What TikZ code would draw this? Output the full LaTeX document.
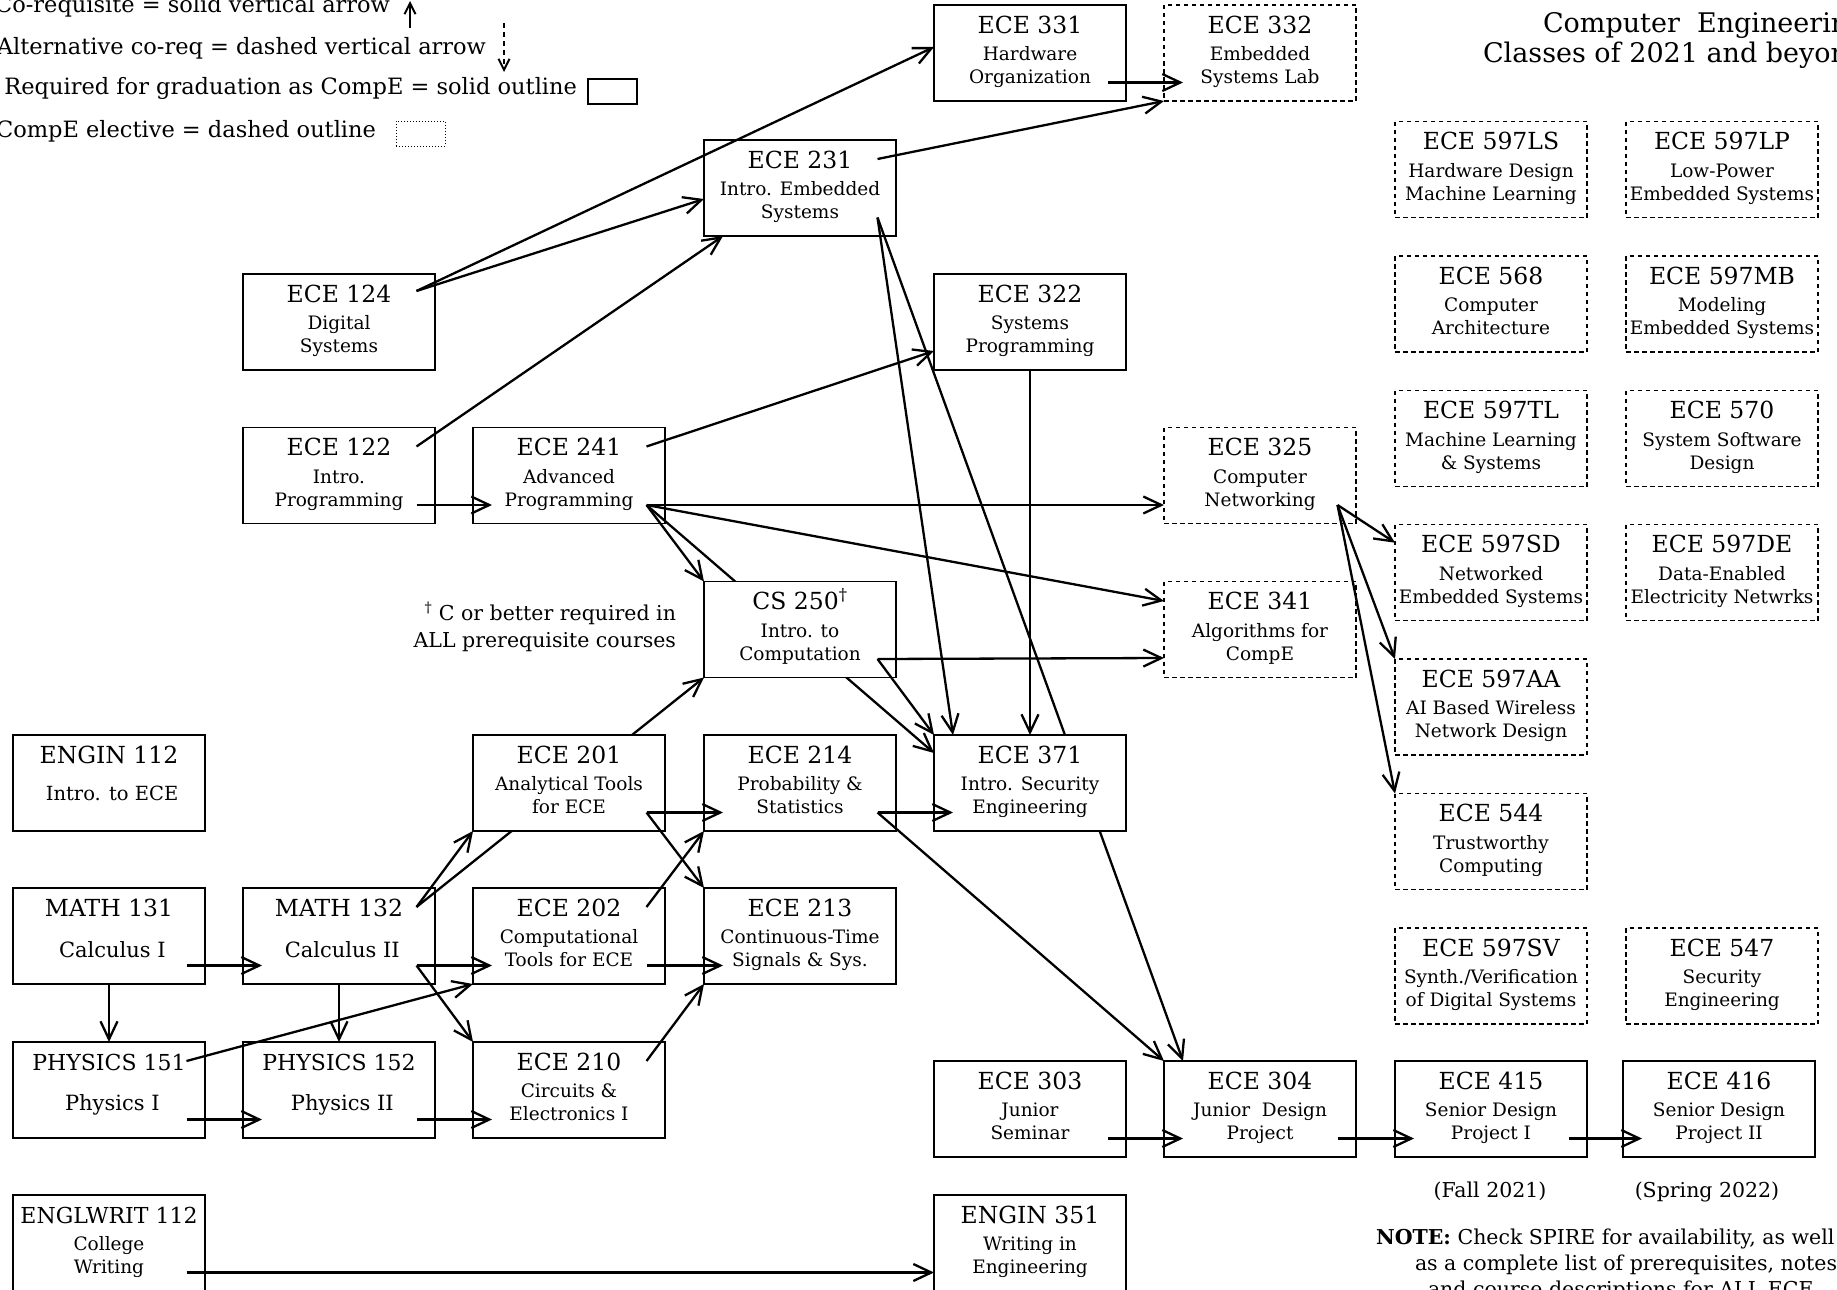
\documentclass[tikz,border=0pt]{standalone}
\usepackage{fontspec}
\setmainfont{DejaVu Serif}
\usetikzlibrary{arrows.meta,calc}
\newcommand\crsrow[2]{\vskip #1\relax\hbox to 192pt{\hss\smash{#2}\hss}}
\newcommand\crstitle{\fontsize{23.5pt}{28pt}\selectfont}
\newcommand\crssub{\fontsize{18.5pt}{22pt}\selectfont}
\newcommand\crsmid{\fontsize{19.5pt}{23pt}\selectfont}
\newcommand\crsbig{\fontsize{21pt}{25pt}\selectfont}
\newcommand\crsthree[3]{\vbox to 96pt{\offinterlineskip\crsrow{28pt}{\crstitle #1}\crsrow{27.5pt}{\crssub #2}\crsrow{23pt}{\crssub #3}\vss}}
\newcommand\crstwo[4]{\vbox to 96pt{\offinterlineskip\crsrow{28pt}{\crstitle #1}\crsrow{#4}{#3 #2}\vss}}
\newcommand\legf{\fontsize{22.5pt}{26pt}\selectfont}
\newcommand\fnf{\fontsize{20.5pt}{24pt}\selectfont}
\newcommand\headf{\fontsize{27pt}{32pt}\selectfont}
\newcommand\notef{\fontsize{20.5pt}{26pt}\selectfont}
\tikzset{
 req/.style={draw, line width=1.3pt, fill=white, inner sep=0pt, outer sep=0pt},
 elec/.style={req, line width=1.2pt, dash pattern=on 4.5pt off 3.5pt},
 arr/.style={line width=2.3pt, -{Straight Barb[length=18pt,width=17pt]}},
 legarr/.style={line width=2pt, -{Straight Barb[length=11pt,width=11pt]}},
 txt/.style={inner sep=0pt, outer sep=0pt},
}
\begin{document}
\begin{tikzpicture}[x=1pt,y=-1pt]
\useasboundingbox (0,0) rectangle (1837,1290);
\fill[white] (0,0) rectangle (1837,1290);

% ---------- legend ----------
\node[txt, anchor=base east, font=\legf] (leg1) at (390,13) {Co-requisite = solid vertical arrow};
\node[txt, anchor=base east, font=\legf] (leg2) at (486,55) {Alternative co-req = dashed vertical arrow};
\node[txt, anchor=base east, font=\legf] (leg3) at (577,95) {Required for graduation as CompE = solid outline};
\node[txt, anchor=base east, font=\legf] (leg4) at (376,137) {CompE elective = dashed outline};
\coordinate (lu1) at (410,28); \coordinate (lu2) at (410,1);
\coordinate (ld1) at (504,23); \coordinate (ld2) at (504,72);
\draw[legarr] (lu1) -- (lu2);
\draw[legarr, dash pattern=on 5pt off 4pt] (ld1) -- (ld2);
\node[draw, line width=1.2pt, minimum width=49pt, minimum height=25pt, inner sep=0pt] (legreq) at (612.5,91.5) {};
\node[draw, line width=1pt, dotted, minimum width=49pt, minimum height=25pt, inner sep=0pt] (legelec) at (420.5,133.5) {};

% ---------- heading and notes ----------
\node[txt, anchor=base west, font=\headf] (head1) at (1543,33) {Computer\ \ Engineering};
\node[txt, anchor=base west, font=\headf] (head2) at (1483,63) {Classes of 2021 and beyond};
\node[txt, anchor=base west, font=\notef] (note1) at (1376,1244) {\textbf{NOTE:} Check SPIRE for availability, as well};
\node[txt, anchor=base west, font=\notef] (note2) at (1415,1270) {as a complete list of prerequisites, notes};
\node[txt, anchor=base west, font=\notef] (note3) at (1428,1296) {and course descriptions for ALL ECE};
\node[txt, anchor=base, font=\notef] (fall) at (1490,1197) {(Fall 2021)};
\node[txt, anchor=base, font=\notef] (spring) at (1707,1197) {(Spring 2022)};
\node[txt, anchor=base east, font=\fnf] (fn1) at (676,620) {\textsuperscript{†} C or better required in};
\node[txt, anchor=base east, font=\fnf] (fn2) at (676,647) {ALL prerequisite courses};

% ---------- courses ----------
\node[req] (ece331) at (1030,53) {\crsthree{ECE 331}{Hardware}{Organization}};
\node[elec] (ece332) at (1260,53) {\crsthree{ECE 332}{Embedded}{Systems Lab}};
\node[req] (ece231) at (800,188) {\crsthree{ECE 231}{Intro. Embedded}{Systems}};
\node[req] (ece124) at (339,322) {\crsthree{ECE 124}{Digital}{Systems}};
\node[req] (ece322) at (1030,322) {\crsthree{ECE 322}{Systems}{Programming}};
\node[req] (ece122) at (339,475.5) {\crsthree{ECE 122}{Intro.}{Programming}};
\node[req] (ece241) at (569,475.5) {\crsthree{ECE 241}{Advanced}{Programming}};
\node[elec] (ece325) at (1260,475.5) {\crsthree{ECE 325}{Computer}{Networking}};
\node[elec] (ece341) at (1260,629.5) {\crsthree{ECE 341}{Algorithms for}{CompE}};
\node[req] (engin112) at (109,783) {\crstwo{ENGIN 112}{Intro. to ECE}{\crsmid}{37pt}};
\node[req] (ece214) at (800,783) {\crsthree{ECE 214}{Probability \&}{Statistics}};
\node[req] (math131) at (109,936) {\crstwo{MATH 131}{Calculus I}{\crsbig}{41pt}};
\node[req] (math132) at (339,936) {\crstwo{MATH 132}{Calculus II}{\crsbig}{41pt}};
\node[req] (ece202) at (569,936) {\crsthree{ECE 202}{Computational}{Tools for ECE}};
\node[req] (ece213) at (800,936) {\crsthree{ECE 213}{Continuous-Time}{Signals \& Sys.}};
\node[req] (phys151) at (109,1090) {\crstwo{\fontsize{22pt}{26pt}\selectfont PHYSICS 151}{Physics I}{\crsbig}{40pt}};
\node[req] (phys152) at (339,1090) {\crstwo{\fontsize{22pt}{26pt}\selectfont PHYSICS 152}{Physics II}{\crsbig}{40pt}};
\node[req] (ece210) at (569,1090) {\crsthree{ECE 210}{Circuits \&}{Electronics I}};
\node[req] (ece303) at (1030,1109) {\crsthree{ECE 303}{Junior}{Seminar}};
\node[req] (ece304) at (1260,1109) {\crsthree{ECE 304}{Junior\ \ Design}{Project}};
\node[req] (ece415) at (1491,1109) {\crsthree{ECE 415}{Senior Design}{Project I}};
\node[req] (ece416) at (1719,1109) {\crsthree{ECE 416}{Senior Design}{Project II}};
\node[req] (englwrit) at (109,1243) {\crsthree{\fontsize{22pt}{26pt}\selectfont ENGLWRIT 112}{College}{Writing}};
\node[req] (engin351) at (1030,1243) {\crsthree{ENGIN 351}{Writing in}{Engineering}};
% electives
\node[elec] (e597ls) at (1491,169.5) {\crsthree{ECE 597LS}{Hardware Design}{Machine Learning}};
\node[elec] (e568) at (1491,304) {\crsthree{ECE 568}{Computer}{Architecture}};
\node[elec] (e597tl) at (1491,438.5) {\crsthree{ECE 597TL}{Machine Learning}{\& Systems}};
\node[elec] (e597sd) at (1491,572.7) {\crsthree{ECE 597SD}{Networked}{Embedded Systems}};
\node[elec] (e597aa) at (1491,707) {\crsthree{ECE 597AA}{AI Based Wireless}{Network Design}};
\node[elec] (e544) at (1491,841.5) {\crsthree{ECE 544}{Trustworthy}{Computing}};
\node[elec] (e597sv) at (1491,976) {\crsthree{ECE 597SV}{Synth./Verification}{of Digital Systems}};
\node[elec] (e597lp) at (1722,169.5) {\crsthree{ECE 597LP}{Low-Power}{Embedded Systems}};
\node[elec] (e597mb) at (1722,304) {\crsthree{ECE 597MB}{Modeling}{Embedded Systems}};
\node[elec] (e570) at (1722,438.5) {\crsthree{ECE 570}{System Software}{Design}};
\node[elec] (e597de) at (1722,572.7) {\crsthree{ECE 597DE}{Data-Enabled}{Electricity Netwrks}};
\node[elec] (e547) at (1722,976) {\crsthree{ECE 547}{Security}{Engineering}};

% arrows that pass behind boxes drawn later
\draw[arr] ($(ece231)+(77.5,29.5)$) -- ($(ece304.north)+(-77,0)$);
\node[req] (ece371) at (1030,783) {\crsthree{ECE 371}{Intro. Security}{Engineering}};
\draw[arr] ($(ece241)+(77.5,29.5)$) -- ($(ece371.west)+(0,-30)$);
\node[req] (cs250) at (800,629.5) {\crsthree{CS 250\textsuperscript{†}}{Intro. to}{Computation}};
\draw[arr] ($(math132)+(77.5,-29)$) -- (cs250.south west);
\node[req] (ece201) at (569,783) {\crsthree{ECE 201}{Analytical Tools}{for ECE}};

% ---------- arrows ----------
\draw[arr] ($(ece331)+(77.5,29.5)$) -- ($(ece332)+(-77,29.5)$);
\draw[arr] ($(ece231)+(77.5,-29)$) -- (ece332.south west);
\draw[arr] ($(ece124)+(77.5,-31)$) -- ($(ece331.west)+(0,-6)$);
\draw[arr] ($(ece124)+(77.5,-31)$) -- ($(ece231.west)+(0,11)$);
\draw[arr] ($(ece122)+(77.5,-29)$) -- ($(ece231.south)+(-77,0)$);
\draw[arr] ($(ece122)+(77.5,29.5)$) -- ($(ece241)+(-77,29.5)$);
\draw[arr] ($(ece241)+(77.5,-29)$) -- ($(ece322.west)+(0,29)$);
\draw[arr] ($(ece241)+(77.5,29.5)$) -- ($(ece325.west)+(0,29.5)$);
\draw[arr] ($(ece241)+(77.5,29.5)$) -- ($(ece341.west)+(0,-28.5)$);
\draw[arr] ($(ece241)+(77.5,29.5)$) -- (cs250.north west);
\draw[arr] ($(cs250)+(77.5,29.5)$) -- ($(ece341.west)+(0,28.5)$);
\draw[arr] ($(cs250)+(77.5,29.5)$) -- (ece371.north west);
\draw[arr] ($(ece231)+(77.5,29.5)$) -- ($(ece371.north)+(-77,0)$);
\draw[arr] (ece322.south) -- (ece371.north);
\draw[arr] ($(ece214)+(77.5,29.5)$) -- ($(ece371)+(-77,29.5)$);
\draw[arr] ($(ece214)+(77.5,29.5)$) -- (ece304.north west);
\draw[arr] ($(ece325)+(77.5,29.5)$) -- ($(e597sd.west)+(0,-30)$);
\draw[arr] ($(ece325)+(77.5,29.5)$) -- (e597aa.north west);
\draw[arr] ($(ece325)+(77.5,29.5)$) -- (e544.north west);
\draw[arr] ($(ece303)+(77.5,29.5)$) -- ($(ece304)+(-77,29.5)$);
\draw[arr] ($(ece304)+(77.5,29.5)$) -- ($(ece415)+(-77,29.5)$);
\draw[arr] ($(ece415)+(77.5,29.5)$) -- ($(ece416)+(-77,29.5)$);
\draw[arr] ($(englwrit)+(77.5,29.5)$) -- ($(engin351.west)+(0,29.5)$);
\draw[arr] ($(ece201)+(77.5,29.5)$) -- ($(ece214)+(-77,29.5)$);
\draw[arr] ($(ece201)+(77.5,29.5)$) -- (ece213.north west);
\draw[arr] ($(ece202)+(77.5,-29)$) -- (ece214.south west);
\draw[arr] ($(ece202)+(77.5,29.5)$) -- ($(ece213)+(-77,29.5)$);
\draw[arr] ($(ece210)+(77.5,-29)$) -- (ece213.south west);
\draw[arr] ($(math132)+(77.5,-29)$) -- (ece201.south west);
\draw[arr] ($(math132)+(77.5,29.5)$) -- ($(ece202)+(-77,29.5)$);
\draw[arr] ($(math132)+(77.5,29.5)$) -- (ece210.north west);
\draw[arr] ($(math131)+(77.5,29.5)$) -- ($(math132)+(-77,29.5)$);
\draw[arr] (math131.south) -- (phys151.north);
\draw[arr] (math132.south) -- (phys152.north);
\draw[arr] ($(phys151)+(77.5,-29)$) -- (ece202.south west);
\draw[arr] ($(phys151)+(77.5,29.5)$) -- ($(phys152)+(-77,29.5)$);
\draw[arr] ($(phys152)+(77.5,29.5)$) -- ($(ece210)+(-77,29.5)$);
\end{tikzpicture}
\end{document}
